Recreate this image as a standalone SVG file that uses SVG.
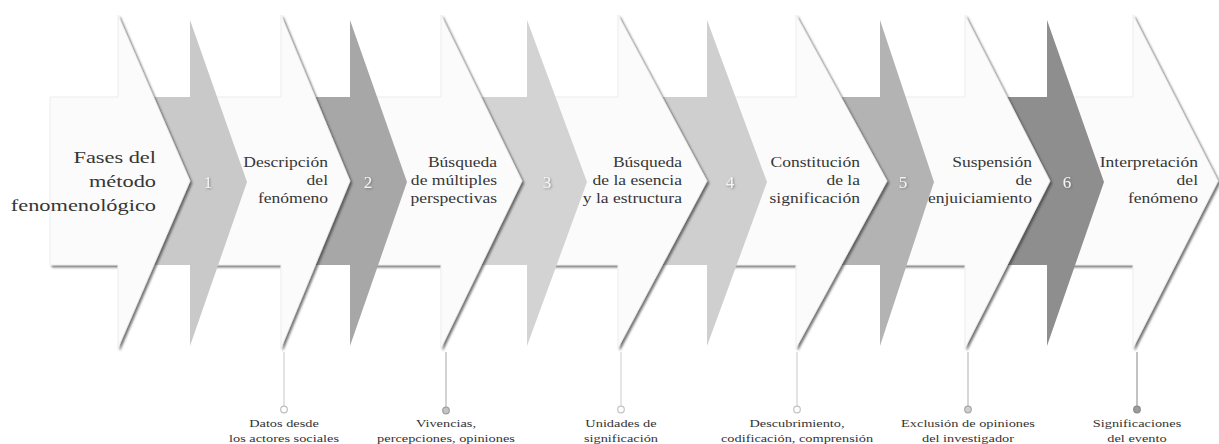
<svg xmlns="http://www.w3.org/2000/svg" width="1219" height="444" viewBox="0 0 1219 444">
<style>
.w{fill:#fbfbfb;stroke:#ebebeb;stroke-width:0.8;filter:url(#sh)}
text{font-family:"Liberation Serif","DejaVu Serif",serif}
.t{fill:#363636}
.ttl{font-size:17.6px}
.lb{font-size:13.8px}
.num{font-size:17px;fill:#f4f4f4;filter:url(#ns)}
.bt{font-size:11.3px;fill:#333}
</style>
<defs>
<filter id="sh" x="-10%" y="-10%" width="130%" height="130%">
<feGaussianBlur in="SourceAlpha" stdDeviation="1.3"/>
<feOffset dx="2" dy="1.5" result="o"/>
<feFlood flood-color="#3c3c3c" flood-opacity="0.7"/>
<feComposite in2="o" operator="in"/>
<feMerge><feMergeNode/><feMergeNode in="SourceGraphic"/></feMerge>
</filter>
<filter id="ns" x="-50%" y="-50%" width="200%" height="200%">
<feGaussianBlur in="SourceAlpha" stdDeviation="0.8"/>
<feOffset dx="0.8" dy="0.8" result="o"/>
<feFlood flood-color="#555" flood-opacity="0.6"/>
<feComposite in2="o" operator="in"/>
<feMerge><feMergeNode/><feMergeNode in="SourceGraphic"/></feMerge>
</filter>
</defs>

<g id="w7">
<path class="w" d="M1060,97H1133V15L1218,181L1133,348V265H1060Z"/>
<text class="t lb" font-family="Liberation Serif, serif" text-anchor="end" transform="matrix(1.27 0 0 1 1198 0)"><tspan x="0" y="167">Interpretación</tspan><tspan x="0" y="185">del</tspan><tspan x="0" y="203">fenómeno</tspan></text>
</g>
<g id="g6">
<path fill="#8e8e8e" d="M970,97H1047V20L1104,182L1047,346V265H970Z"/>
<text class="num" font-family="Liberation Serif, serif" x="1067" y="188" text-anchor="middle">6</text>
</g>
<g id="w6">
<path class="w" d="M890,97H965V15L1050,181L965,348V265H890Z"/>
<text class="t lb" font-family="Liberation Serif, serif" text-anchor="end" transform="matrix(1.27 0 0 1 1032 0)"><tspan x="0" y="167">Suspensión</tspan><tspan x="0" y="185">de</tspan><tspan x="0" y="203">enjuiciamiento</tspan></text>
</g>
<g id="g5">
<path fill="#b3b3b3" d="M800,97H880V20L934,182L880,346V265H800Z"/>
<text class="num" font-family="Liberation Serif, serif" x="903" y="188" text-anchor="middle">5</text>
</g>
<g id="w5">
<path class="w" d="M720,97H796V15L887,181L796,348V265H720Z"/>
<text class="t lb" font-family="Liberation Serif, serif" text-anchor="end" transform="matrix(1.27 0 0 1 860 0)"><tspan x="0" y="167">Constitución</tspan><tspan x="0" y="185">de la</tspan><tspan x="0" y="203">significación</tspan></text>
</g>
<g id="g4">
<path fill="#cfcfcf" d="M630,97H707V20L767,182L707,346V265H630Z"/>
<text class="num" font-family="Liberation Serif, serif" x="730" y="188" text-anchor="middle">4</text>
</g>
<g id="w4">
<path class="w" d="M540,97H618V15L707,181L618,348V265H540Z"/>
<text class="t lb" font-family="Liberation Serif, serif" text-anchor="end" transform="matrix(1.27 0 0 1 682 0)"><tspan x="0" y="167">Búsqueda</tspan><tspan x="0" y="185">de la esencia</tspan><tspan x="0" y="203">y la estructura</tspan></text>
</g>
<g id="g3">
<path fill="#d3d3d3" d="M450,97H527V20L587,182L527,346V265H450Z"/>
<text class="num" font-family="Liberation Serif, serif" x="547" y="188" text-anchor="middle">3</text>
</g>
<g id="w3">
<path class="w" d="M360,97H441V15L522,181L441,348V265H360Z"/>
<text class="t lb" font-family="Liberation Serif, serif" text-anchor="end" transform="matrix(1.27 0 0 1 497 0)"><tspan x="0" y="167">Búsqueda</tspan><tspan x="0" y="185">de múltiples</tspan><tspan x="0" y="203">perspectivas</tspan></text>
</g>
<g id="g2">
<path fill="#a7a7a7" d="M290,97H350V20L407,182L350,346V265H290Z"/>
<text class="num" font-family="Liberation Serif, serif" x="368" y="188" text-anchor="middle">2</text>
</g>
<g id="w2">
<path class="w" d="M200,97H281V15L350,181L281,348V265H200Z"/>
<text class="t lb" font-family="Liberation Serif, serif" text-anchor="end" transform="matrix(1.27 0 0 1 328 0)"><tspan x="0" y="167">Descripción</tspan><tspan x="0" y="185">del</tspan><tspan x="0" y="203">fenómeno</tspan></text>
</g>
<g id="g1">
<path fill="#c9c9c9" d="M120,97H190V20L247,182L190,346V265H120Z"/>
<text class="num" font-family="Liberation Serif, serif" x="208" y="188" text-anchor="middle">1</text>
</g>
<g id="w1">
<path class="w" d="M50,97H118V15L190,181L118,348V265H50Z"/>
<text class="t ttl" font-family="Liberation Serif, serif" text-anchor="end" transform="matrix(1.27 0 0 1 156 0)"><tspan x="0" y="163">Fases del</tspan><tspan x="0" y="187">método</tspan><tspan x="0" y="211">fenomenológico</tspan></text>
</g>

<g id="connectors" stroke-width="1.2">
<line x1="284" y1="352" x2="284" y2="406" stroke="#cfcfcf"/>
<circle cx="284" cy="409.5" r="3.3" fill="#fff" stroke="#bdbdbd"/>
<line x1="446" y1="352" x2="446" y2="407" stroke="#b5b5b5"/>
<circle cx="446" cy="410.5" r="3.3" fill="#c4c4c4" stroke="#9f9f9f"/>
<line x1="621" y1="352" x2="621" y2="406" stroke="#d6d6d6"/>
<circle cx="621" cy="409.5" r="3.3" fill="#fff" stroke="#c4c4c4"/>
<line x1="797" y1="352" x2="797" y2="406" stroke="#d2d2d2"/>
<circle cx="797" cy="409.5" r="3.3" fill="#fff" stroke="#c2c2c2"/>
<line x1="968" y1="352" x2="968" y2="406" stroke="#bbbbbb"/>
<circle cx="968" cy="409.5" r="3.3" fill="#cfcfcf" stroke="#a8a8a8"/>
<line x1="1137" y1="352" x2="1137" y2="406" stroke="#9a9a9a"/>
<circle cx="1137" cy="409.5" r="3.3" fill="#9c9c9c" stroke="#8a8a8a"/>
</g>

<g id="notes" text-anchor="middle" font-family="Liberation Serif, serif">
<text class="bt" transform="matrix(1.27 0 0 1 284 0)"><tspan x="0" y="427">Datos desde</tspan><tspan x="0" y="442">los actores sociales</tspan></text>
<text class="bt" transform="matrix(1.27 0 0 1 446 0)"><tspan x="0" y="427">Vivencias,</tspan><tspan x="0" y="442">percepciones, opiniones</tspan></text>
<text class="bt" transform="matrix(1.27 0 0 1 621 0)"><tspan x="0" y="427">Unidades de</tspan><tspan x="0" y="442">significación</tspan></text>
<text class="bt" transform="matrix(1.27 0 0 1 797 0)"><tspan x="0" y="427">Descubrimiento,</tspan><tspan x="0" y="442">codificación, comprensión</tspan></text>
<text class="bt" transform="matrix(1.27 0 0 1 968 0)"><tspan x="0" y="427">Exclusión de opiniones</tspan><tspan x="0" y="442">del investigador</tspan></text>
<text class="bt" transform="matrix(1.27 0 0 1 1137 0)"><tspan x="0" y="427">Significaciones</tspan><tspan x="0" y="442">del evento</tspan></text>
</g>
</svg>
